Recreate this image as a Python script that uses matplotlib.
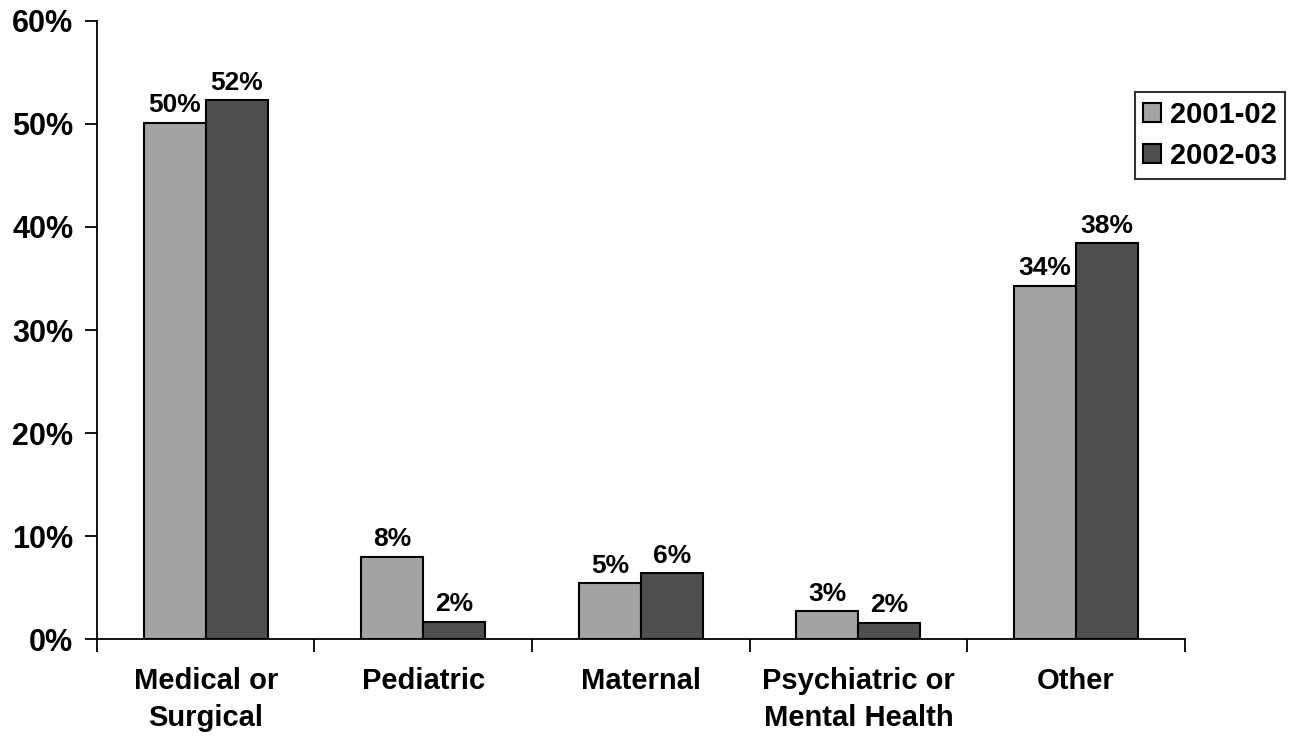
import numpy as np
import matplotlib.pyplot as plt

plt.rcParams['font.family'] = ['Liberation Sans', 'DejaVu Sans']
plt.rcParams['font.weight'] = 'bold'

categories = ["Medical or\nSurgical", "Pediatric", "Maternal",
              "Psychiatric or\nMental Health", "Other"]
years = ["2001-02", "2002-03"]
share_0102 = [50.1, 7.96, 5.4, 2.7, 34.3]
share_0203 = [52.3, 1.65, 6.4, 1.55, 38.4]
labels_0102 = ["50%", "8%", "5%", "3%", "34%"]
labels_0203 = ["52%", "2%", "6%", "2%", "38%"]

COLORS = ["#a3a3a3", "#4f4f4f"]

fig = plt.figure(figsize=(12.92, 7.39), dpi=100)
ax = fig.add_axes([0.075, 0.1353, 0.842, 0.8363])

x = np.arange(len(categories))
w = 0.285
b1 = ax.bar(x - w / 2, share_0102, w, color=COLORS[0], edgecolor="black",
            linewidth=1.5, label=years[0])
b2 = ax.bar(x + w / 2, share_0203, w, color=COLORS[1], edgecolor="black",
            linewidth=1.5, label=years[1])

ax.bar_label(b1, labels=labels_0102, padding=4, fontsize=19, fontweight="bold")
ax.bar_label(b2, labels=labels_0203, padding=4, fontsize=19, fontweight="bold")

ax.set_xlim(-0.5, len(categories) - 0.5)
ax.set_ylim(0, 60)
ax.set_yticks(range(0, 61, 10))
ax.set_yticklabels([f"{v}%" for v in range(0, 61, 10)], fontsize=22,
                   fontweight="bold")

ax.set_xticks(np.arange(len(categories) + 1) - 0.5)
ax.set_xticklabels([])
ax.set_xticks(x, minor=True)
ax.set_xticklabels(categories, minor=True, fontsize=21, fontweight="bold",
                   linespacing=1.4)
ax.tick_params(axis="x", which="minor", length=0, pad=20)
ax.tick_params(axis="x", which="major", length=9, width=1.3)
ax.tick_params(axis="y", length=9, width=1.3, pad=8)

for side in ["top", "right"]:
    ax.spines[side].set_visible(False)
ax.spines["left"].set_linewidth(1.3)
ax.spines["bottom"].set_linewidth(1.3)

leg = ax.legend(loc="upper left", bbox_to_anchor=(0.954, 0.885), fontsize=21,
                frameon=True, fancybox=False, edgecolor="black",
                handlelength=0.6, handleheight=0.6, handletextpad=0.3,
                borderpad=0.3, labelspacing=0.45, borderaxespad=0)
leg.get_frame().set_linewidth(1.5)
for t in leg.get_texts():
    t.set_fontweight("bold")

fig.savefig("out.png", dpi=100)
